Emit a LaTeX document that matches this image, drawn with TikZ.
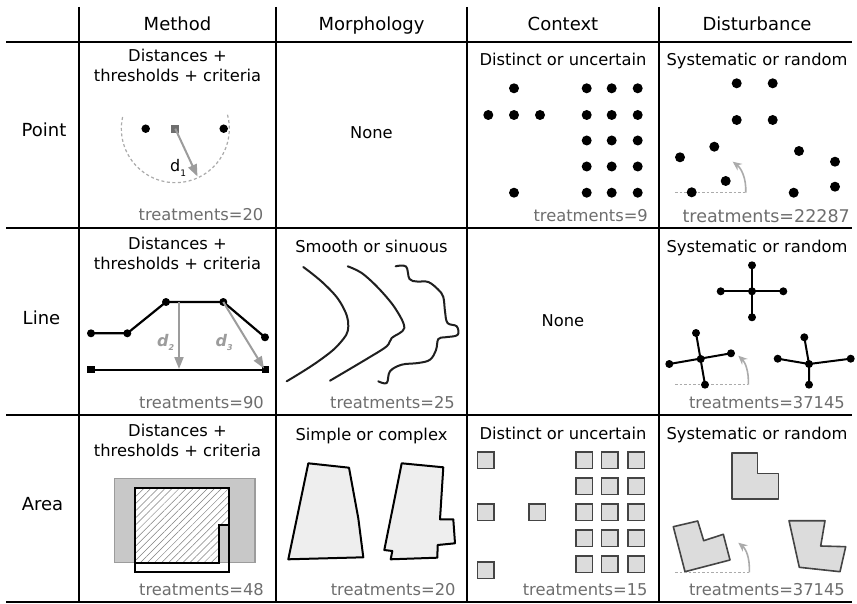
\documentclass[tikz,border=0pt]{standalone}
\usepackage{fontspec}
\setmainfont{DejaVu Sans}
\usetikzlibrary{arrows.meta,patterns.meta}
\definecolor{txtgray}{HTML}{6E6E6E}
\definecolor{arrgray}{HTML}{9C9C9C}
\definecolor{lightgray2}{HTML}{ABABAB}
\definecolor{fillgray}{HTML}{DCDCDC}
\definecolor{lightfill}{HTML}{EEEEEE}
\definecolor{rectgray}{HTML}{C8C8C8}
\definecolor{edgegray}{HTML}{444444}
\begin{document}
\begin{tikzpicture}[x=1pt,y=-1pt,
  hdr/.style={font=\fontsize{18}{21}\selectfont, anchor=base, inner sep=0},
  ttl/.style={font=\fontsize{16.3}{19.5}\selectfont, anchor=base, inner sep=0},
  trt/.style={font=\fontsize{16.3}{19.5}\selectfont, text=txtgray, anchor=base east, inner sep=0},
  dot/.style={circle, fill=black, inner sep=0, minimum size=10pt},
  sdot/.style={circle, fill=black, inner sep=0, minimum size=8pt},
  sq/.style={rectangle, fill=black, inner sep=0, minimum size=7.5pt},
  gridline/.style={line width=1.6pt, black},
  darr/.style={draw=arrgray, line width=2pt, -{Triangle[length=12pt,width=9pt]}},
  refline/.style={draw=lightgray2, line width=1.3pt, dash pattern=on 2.5pt off 2pt},
  rotarr/.style={draw=lightgray2, line width=1.6pt, -{Stealth[length=9pt,width=8pt]}},
  polyl/.style={draw=black, line width=2.2pt, line join=round},
  crossl/.style={draw=black, line width=2pt},
  box/.style={rectangle, draw=edgegray, fill=fillgray, line width=1.5pt, minimum size=16.5pt, inner sep=0},
  shp/.style={draw=edgegray, fill=fillgray, line width=1.6pt, line join=round},
  morph/.style={draw=black, line width=2pt, line join=round, fill=lightfill},
  curv/.style={draw=black!88, line width=2pt, line cap=round, line join=round}
]
\useasboundingbox (0,0) rectangle (857,604);
\fill[white] (0,0) rectangle (857,604);

% grid
\draw[gridline] (6,42) -- (852,42);
\draw[gridline] (6,228) -- (852,228);
\draw[gridline] (6,415) -- (852,415);
\draw[gridline] (6,602) -- (852,602);
\draw[gridline] (79,7) -- (79,602);
\draw[gridline] (276,7) -- (276,602);
\draw[gridline] (467,7) -- (467,602);
\draw[gridline] (659,7) -- (659,602);

% headers
\node[hdr] (hm) at (177.5,30.5) {Method};
\node[hdr] (hmo) at (371.5,30.5) {Morphology};
\node[hdr] (hc) at (563,30.5) {Context};
\node[hdr] (hd) at (757,30.5) {Disturbance};
\node[hdr] (rp) at (44,136.5) {Point};
\node[hdr] (rl) at (41.5,324.5) {Line};
\node[hdr] (ra) at (42.5,510.5) {Area};

% ---------- Point / Method
\node[ttl] (pmt1) at (177.5,62) {Distances +};
\node[ttl] (pmt2) at (177.5,81.5) {thresholds + criteria};
\draw[lightgray2, line width=1.2pt, dash pattern=on 3pt off 2.5pt] (227.5,114.7) arc[start angle=15, end angle=-195, radius=54pt];
\node[dot, minimum size=8.5pt] (pm1) at (145.7,128.7) {};
\node[dot, minimum size=8.5pt] (pm2) at (223.7,128.7) {};
\node[rectangle, fill=txtgray, inner sep=0, minimum size=8pt] (pmc) at (175.3,128.7) {};
\coordinate (pmd) at (197.5,176.5);
\draw[darr] (pmc.center) -- (pmd);
\node[font=\fontsize{16}{18}\selectfont, inner sep=0, anchor=base west] (pml) at (170,172) {d\raisebox{-5pt}{\fontsize{9}{9}\selectfont 1}};
\node[trt] (pmn) at (263.5,220.7) {treatments=20};

% ---------- Point / Morphology
\node[ttl] (pmo) at (371.5,139) {None};

% ---------- Point / Context
\node[ttl] (pct) at (563,65.7) {Distinct or uncertain};
\node[dot] (pc1) at (514,88.3) {};
\node[dot] (pc2) at (488.3,115) {};
\node[dot] (pc3) at (514,115) {};
\node[dot] (pc4) at (540,115) {};
\node[dot] (pc5) at (514,192.7) {};
\foreach \xx in {586.7,611.7,637.7}{
  \foreach \yy in {88.3,115,140.5,166.5,192.7}{
    \node[dot] at (\xx,\yy) {};
  }
}
\node[trt] (pcn) at (648,221.7) {treatments=9};

% ---------- Point / Disturbance
\node[ttl] (pdt) at (757,65.7) {Systematic or random};
\coordinate (dpl) at (675,192.7);
\coordinate (dpa) at (745.7,192.7);
\coordinate (dpb) at (732.7,161.7);
\draw[refline] (dpl) -- (dpa);
\draw[rotarr] (dpa) .. controls (746.5,178) and (741,168) .. (dpb);
\node[dot] (pd1) at (736.7,83.3) {};
\node[dot] (pd2) at (772.7,83.3) {};
\node[dot] (pd3) at (736.7,120) {};
\node[dot] (pd4) at (772.7,120) {};
\node[dot] (pd5) at (714.3,146.7) {};
\node[dot] (pd6) at (680,157.3) {};
\node[dot] (pd7) at (799,151) {};
\node[dot] (pd8) at (835,161.7) {};
\node[dot] (pd9) at (725.7,181) {};
\node[dot] (pd10) at (691.7,192.3) {};
\node[dot] (pd11) at (793.7,192.7) {};
\node[dot] (pd12) at (835,186.7) {};
\node[trt, font=\fontsize{17.5}{20}\selectfont] (pdn) at (850,223) {treatments=22287};

% ---------- Line / Method
\node[ttl] (lmt1) at (177.5,250) {Distances +};
\node[ttl] (lmt2) at (177.5,269.5) {thresholds + criteria};
\node[sdot] (lm1) at (91,333.3) {};
\node[sdot] (lm2) at (127.3,333.3) {};
\node[sdot] (lm3) at (166,302) {};
\node[sdot] (lm4) at (223.3,302) {};
\node[sdot] (lm5) at (265,337.3) {};
\draw[polyl] (lm1.center) -- (lm2.center) -- (lm3.center) -- (lm4.center) -- (lm5.center);
\node[sq] (lq1) at (91,369.7) {};
\node[sq] (lq2) at (265.3,369.7) {};
\draw[polyl] (lq1.center) -- (lq2.center);
\coordinate (lf2) at (179,302);
\coordinate (lt2) at (179,369);
\coordinate (lt3) at (264,368.5);
\draw[darr] (lf2) -- (lt2);
\draw[darr] (lm4.center) -- (lt3);
\node[font=\fontsize{16}{18}\selectfont\bfseries\itshape, text=arrgray, inner sep=0, anchor=base west] (ld2) at (157,346.3) {d\raisebox{-4pt}{\fontsize{8}{8}\selectfont 2}};
\node[font=\fontsize{16}{18}\selectfont\bfseries\itshape, text=arrgray, inner sep=0, anchor=base west] (ld3) at (215.5,346.3) {d\raisebox{-4pt}{\fontsize{8}{8}\selectfont 3}};
\node[trt] (lmn) at (264,408) {treatments=90};

% ---------- Line / Morphology
\node[ttl] (lmot) at (371.5,252.3) {Smooth or sinuous};
\draw[curv] plot[smooth, tension=0.7] coordinates {(303.3,267) (325,284.7) (341.7,304.7) (348.3,326.3) (340,343) (318.3,361.3) (286.7,381.3)};
\draw[curv] plot[smooth, tension=0.55] coordinates {(347.7,266.3) (361.7,273) (378.3,288) (395,308) (404.3,328) (391.7,338) (386.7,346.3) (368.3,358) (330,380.7)};
\draw[curv] plot[smooth, tension=0.6] coordinates {(395.7,266.3) (406,266.5) (409.5,279) (417,281.5) (428.3,282) (438.3,289.7) (443.3,297) (445,311.3) (447.5,323) (456.7,326.3) (457.5,335) (445,337.3) (438.3,339) (436,350) (430,359.7) (418.3,363) (401.7,364.7) (390,371.3) (386.7,383) (378.3,381.3)};
\node[trt] (lmon) at (455,408) {treatments=25};

% ---------- Line / Context
\node[ttl] (lc) at (563,326) {None};

% ---------- Line / Disturbance
\node[ttl] (ldt) at (757,252.3) {Systematic or random};
\coordinate (dll) at (675,384.7);
\coordinate (dla) at (748.3,384.7);
\coordinate (dlb) at (738.3,355.7);
\draw[refline] (dll) -- (dla);
\draw[rotarr] (dla) .. controls (749,371) and (745,362) .. (dlb);
\node[sdot] (c1) at (752,291.3) {};
\node[sdot] (c1t) at (752,265.3) {};
\node[sdot] (c1b) at (752,317.3) {};
\node[sdot] (c1l) at (720.7,291.3) {};
\node[sdot] (c1r) at (783.3,291.3) {};
\draw[crossl] (c1t.center) -- (c1b.center);
\draw[crossl] (c1l.center) -- (c1r.center);
\node[sdot] (c2) at (700.7,359) {};
\node[sdot] (c2t) at (696,333) {};
\node[sdot] (c2b) at (705,384.7) {};
\node[sdot] (c2l) at (669.3,364) {};
\node[sdot] (c2r) at (731,353.3) {};
\draw[crossl] (c2t.center) -- (c2b.center);
\draw[crossl] (c2l.center) -- (c2r.center);
\node[sdot] (c3) at (809,364) {};
\node[sdot] (c3t) at (804.3,337.3) {};
\node[sdot] (c3b) at (809,384.7) {};
\node[sdot] (c3l) at (777.7,358.7) {};
\node[sdot] (c3r) at (850.7,358.7) {};
\draw[crossl] (c3t.center) -- (c3.center) -- (c3b.center);
\draw[crossl] (c3l.center) -- (c3.center) -- (c3r.center);
\node[trt] (ldn) at (845,408) {treatments=37145};

% ---------- Area / Method
\node[ttl] (amt1) at (177.5,436.7) {Distances +};
\node[ttl] (amt2) at (177.5,456.5) {thresholds + criteria};
\draw[fill=rectgray, draw=arrgray, line width=1.2pt] (114.3,478.3) rectangle (255,562.7);
\draw[black, line width=2pt] (135,487.7) rectangle (228.5,571.7);
\draw[black, line width=2pt, line join=miter, preaction={fill=white}, pattern={Lines[angle=45,distance=5pt,line width=0.5pt]}, pattern color=black!50]
  (135,487.7) -- (228.5,487.7) -- (228.5,525) -- (219.3,525) -- (219.3,562.7) -- (135,562.7) -- cycle;
\node[trt] (amn) at (264,595) {treatments=48};

% ---------- Area / Morphology
\node[ttl] (amot) at (371.5,440) {Simple or complex};
\draw[morph] (308.3,463.3) -- (349,467.7) -- (358.3,518.3) -- (363.3,557.3) -- (288.3,559.3) -- cycle;
\draw[morph] (401.7,463.3) -- (443.3,467.3) -- (440,519.3) -- (453.3,519.3) -- (455,543.3) -- (437.7,545) -- (437.3,557.7) -- (390.7,559.3) -- (392.3,551) -- (384.3,550) -- cycle;
\node[trt] (amon) at (455.7,595) {treatments=20};

% ---------- Area / Context
\node[ttl] (act) at (563,439) {Distinct or uncertain};
\node[box] (ac1) at (485.7,460) {};
\node[box] (ac2) at (485.7,512.3) {};
\node[box] (ac3) at (485.7,570) {};
\node[box] (ac4) at (537.3,512.3) {};
\foreach \xx in {584,609.7,636}{
  \foreach \yy in {460,486.2,512.3,538.3,564.3}{
    \node[box] at (\xx,\yy) {};
  }
}
\node[trt] (acn) at (647.7,595.7) {treatments=15};

% ---------- Area / Disturbance
\node[ttl] (adt) at (757,439) {Systematic or random};
\coordinate (dal) at (675,572.3);
\coordinate (daa) at (749.3,572.3);
\coordinate (dab) at (738.3,542.7);
\draw[shp] (731.7,452.7) -- (757.3,452.7) -- (757.3,473.3) -- (778.3,473.3) -- (778.3,499) -- (731.7,499) -- cycle;
\draw[shp] (673.3,526.7) -- (697.7,521) -- (703.7,540.7) -- (723.3,534.3) -- (730,560) -- (685,571.7) -- cycle;
\draw[shp] (789,520.7) -- (825,520.7) -- (820.7,546) -- (845.7,546.7) -- (840,571.7) -- (799.3,567.3) -- cycle;
\draw[refline] (dal) -- (daa);
\draw[rotarr] (daa) .. controls (750,558) and (746,549) .. (dab);
\node[trt] (adn) at (845,595) {treatments=37145};
\end{tikzpicture}
\end{document}
